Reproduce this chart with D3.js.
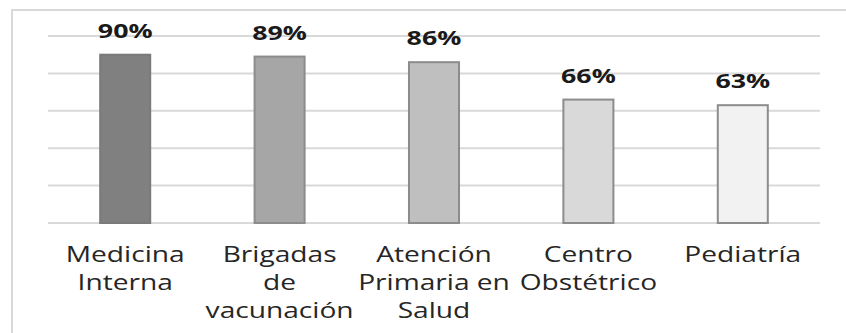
<!DOCTYPE html>
<html><head><meta charset="utf-8">
<script src="https://cdn.jsdelivr.net/npm/d3@7"></script>
<style>html,body{margin:0;padding:0;background:#fff;overflow:hidden}</style>
</head><body>
<svg id="chart" width="846" height="333"></svg>
<script>
const categories = ["Medicina Interna", "Brigadas de vacunación", "Atención Primaria en Salud", "Centro Obstétrico", "Pediatría"];
const categoryLines = [["Medicina", "Interna"], ["Brigadas", "de", "vacunación"], ["Atención", "Primaria en", "Salud"], ["Centro", "Obstétrico"], ["Pediatría"]];
const values = [0.90, 0.89, 0.86, 0.66, 0.63];
const valueLabels = ["90%", "89%", "86%", "66%", "63%"];
const barColors = ["#808080", "#a6a6a6", "#bfbfbf", "#d9d9d9", "#f2f2f2"];
const yTicks = [0, 0.2, 0.4, 0.6, 0.8, 1.0];

const svg = d3.select("#chart");
const stretch = 1.34;

svg.append("rect").attr("x", 12).attr("y", 10).attr("width", 860).attr("height", 360)
  .attr("fill", "none").attr("stroke", "#d9d9d9").attr("stroke-width", 2);

const x = d3.scaleBand().domain(categories).range([48, 820]).paddingInner(0.676).paddingOuter(0.338);
const y = d3.scaleLinear().domain([0, 1]).range([223, 36]);

svg.append("g").selectAll("line").data(yTicks).join("line")
  .attr("x1", 48).attr("x2", 820)
  .attr("y1", d => y(d)).attr("y2", d => y(d))
  .attr("stroke", "#d9d9d9").attr("stroke-width", 2);

svg.append("g").selectAll("rect").data(categories).join("rect")
  .attr("x", d => x(d)).attr("width", x.bandwidth())
  .attr("y", (d, i) => y(values[i])).attr("height", (d, i) => y(0) - y(values[i]))
  .attr("fill", (d, i) => barColors[i])
  .attr("stroke", (d, i) => i === 0 ? "#7a7a7a" : "#8c8c8c").attr("stroke-width", 2);

svg.append("g").selectAll("text").data(categories).join("text")
  .attr("transform", (d, i) => `translate(${x(d) + x.bandwidth() / 2},${y(values[i]) - 17}) scale(${stretch},1)`)
  .attr("text-anchor", "middle")
  .attr("font-family", "Open Sans, sans-serif").attr("font-weight", "bold").attr("font-size", 20)
  .attr("fill", "#1a1a1a")
  .text((d, i) => valueLabels[i]);

const lab = svg.append("g");
categories.forEach((c, i) => {
  categoryLines[i].forEach((ln, j) => {
    lab.append("text")
      .attr("transform", `translate(${x(c) + x.bandwidth() / 2},${261.7 + j * 28.3}) scale(${stretch},1)`)
      .attr("text-anchor", "middle")
      .attr("font-family", "Open Sans, sans-serif").attr("font-size", 21)
      .attr("fill", "#262626")
      .text(ln);
  });
});
</script>
</body></html>
